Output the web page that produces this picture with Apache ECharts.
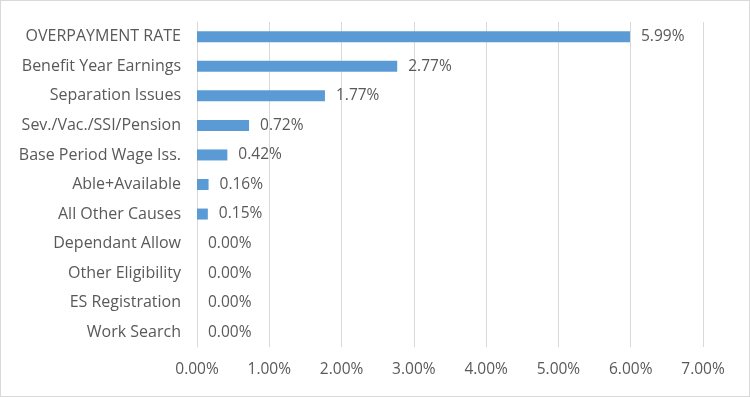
<!DOCTYPE html>
<html>
<head>
<meta charset="utf-8">
<script src="https://cdn.jsdelivr.net/npm/echarts@6/dist/echarts.min.js"></script>
<style>
  html, body { margin: 0; padding: 0; background: #fff; }
  #chart { width: 748px; height: 395px; border: 1px solid #d9d9d9; }
</style>
</head>
<body>
<div id="chart"></div>
<script>
// categories top -> bottom
var causes = ['OVERPAYMENT RATE', 'Benefit Year Earnings', 'Separation Issues',
    'Sev./Vac./SSI/Pension', 'Base Period Wage Iss.', 'Able+Available',
    'All Other Causes', 'Dependant Allow', 'Other Eligibility', 'ES Registration', 'Work Search'];
var rates = [5.99, 2.77, 1.77, 0.72, 0.42, 0.16, 0.15, 0.00, 0.00, 0.00, 0.00];
var xTicks = [0, 1, 2, 3, 4, 5, 6, 7];

var chart = echarts.init(document.getElementById('chart'));
var txt = '#595959';

chart.setOption({
    animation: false,
    textStyle: {fontFamily: 'Open Sans'},
    grid: {left: 196, right: 46, top: 21, bottom: 49},
    xAxis: {
        type: 'value',
        min: xTicks[0], max: xTicks[xTicks.length - 1], interval: 1,
        axisLine: {show: false},
        axisTick: {show: false},
        splitLine: {lineStyle: {color: '#d9d9d9'}},
        axisLabel: {color: txt, fontSize: 15.5, margin: 15,
            formatter: function (v) { return v.toFixed(2) + '%'; }}
    },
    yAxis: {
        type: 'category',
        inverse: true,
        data: causes,
        axisLine: {lineStyle: {color: '#d9d9d9'}},
        axisTick: {show: false},
        axisLabel: {color: txt, fontSize: 16, margin: 16}
    },
    series: [{
        type: 'bar',
        data: rates,
        barWidth: 11,
        itemStyle: {color: '#5b9bd5'},
        label: {
            show: true, position: 'right', distance: 11,
            color: txt, fontSize: 15.5,
            formatter: function (p) { return p.value.toFixed(2) + '%'; }
        }
    }]
});
</script>
</body>
</html>
